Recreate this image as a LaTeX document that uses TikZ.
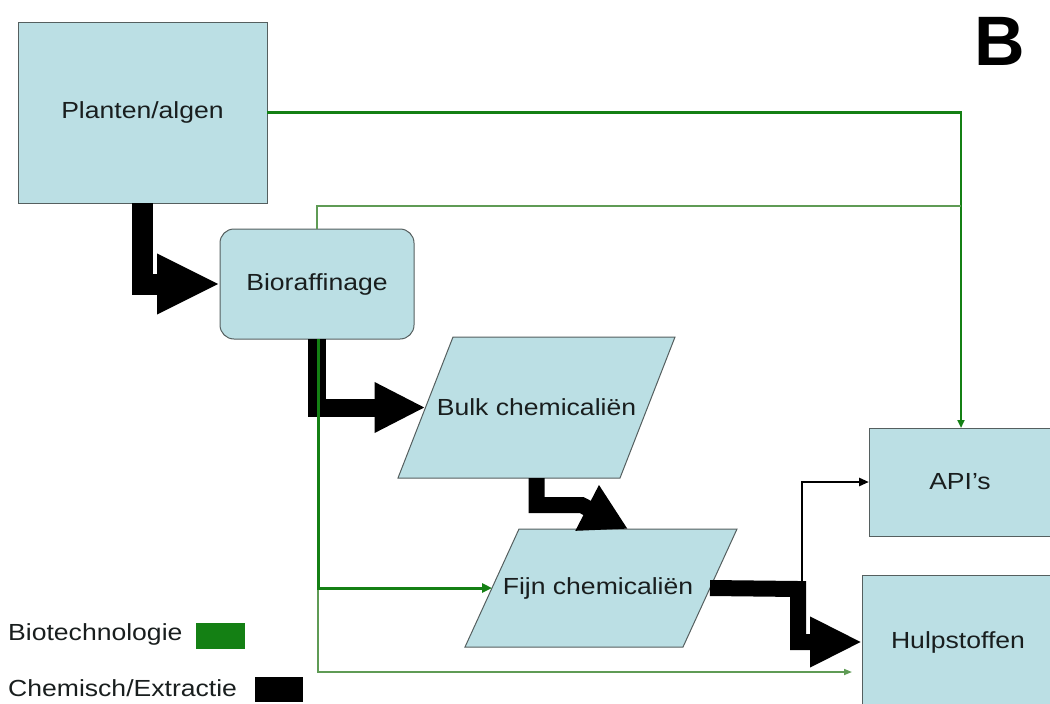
\documentclass[tikz,border=0pt]{standalone}
\usepackage{fontspec}
\setmainfont{Liberation Sans}[FakeStretch=1.14]
\newfontfamily\plainsans{Liberation Sans}
\usetikzlibrary{arrows.meta,backgrounds}
\definecolor{boxfill}{RGB}{187,223,228}
\definecolor{boxline}{RGB}{85,95,95}
\definecolor{flowgreen}{RGB}{20,128,20}
\definecolor{thingreen}{RGB}{95,155,85}
\definecolor{txt}{RGB}{25,30,30}
\begin{document}
\begin{tikzpicture}[x=1pt,y=-1pt,
  lbl/.style={text=txt, font=\fontsize{23.3}{26}\selectfont},
  box/.style={lbl, draw=boxline, line width=1pt, fill=boxfill, inner sep=0pt, outer sep=0pt},
  parabody/.style={lbl, rectangle, inner sep=0pt, outer sep=0pt},
  paraface/.style={draw=boxline, line width=1pt, fill=boxfill},
  blk/.style={draw=black, line width=#1, line join=miter},
  grn/.style={draw=flowgreen, line width=#1},
]
\path[use as bounding box] (0,0) rectangle (1050,704);

% nodes
\node[box, minimum width=249, minimum height=181] (plant) at (142.5,112.5) {Planten/algen};
\node[box, rounded corners=14pt, minimum width=194, minimum height=110] (bio) at (317,284) {Bioraffinage};
\node[parabody, minimum width=222, minimum height=141] (bulk) at (536.5,407.5) {Bulk chemicali\"en};
\node[parabody, minimum width=218, minimum height=118] (fijn) at (601,588) {Fijn chemicali\"en\hspace*{6pt}};
\node[box, minimum width=191, minimum height=108] (api) at (964.5,482) {API's\hspace*{9pt}};
\node[box, minimum width=198, minimum height=134] (hulp) at (961,642) {Hulpstoffen\hspace*{6pt}};

\begin{scope}[on background layer]
  \draw[paraface] ([xshift=27.5pt]bulk.north west) -- ([xshift=27.5pt]bulk.north east)
     -- ([xshift=-27.5pt]bulk.south east) -- ([xshift=-27.5pt]bulk.south west) -- cycle;
  \draw[paraface] ([xshift=27pt]fijn.north west) -- ([xshift=27pt]fijn.north east)
     -- ([xshift=-27pt]fijn.south east) -- ([xshift=-27pt]fijn.south west) -- cycle;
\end{scope}

\node[font=\plainsans\bfseries\fontsize{70}{70}\selectfont] (B) at (999.5,41) {B};

% legend
\node[lbl, anchor=west, inner sep=0pt] (lg1) at (8,634) {Biotechnologie};
\node[fill=flowgreen, minimum width=49, minimum height=26, inner sep=0pt] (lg1b) at (220.5,636) {};
\node[lbl, anchor=west, inner sep=0pt] (lg2) at (8,688) {Chemisch/Extractie};
\node[fill=black, minimum width=48, minimum height=25, inner sep=0pt] (lg2b) at (279,689.5) {};

\coordinate (jf) at (798,589);
\coordinate (gj) at (961,206);
\coordinate (gh) at (852,672);

% black block arrows
\draw[blk=21pt, -{Triangle[length=63pt,width=56pt]}] (plant.south) |- (bio.west);
\draw[blk=18pt, -{Triangle[length=51pt,width=47pt]}] (bio.south) |- (bulk.west);
\draw[blk=16pt, -{Triangle[length=46pt,width=48pt]}] (bulk.south) -- ++(0,27) -- ++(45,0) -- ([xshift=27pt]fijn.north);
\draw[blk=16pt, -{Triangle[length=52pt,width=47pt]}] (fijn.east) -- (jf) |- (hulp.west);
\draw[draw=black, line width=2.5pt, -{Triangle[length=10pt,width=8pt]}] ([xshift=4pt,yshift=-8pt]jf) |- (api.west);

% green lines
\draw[grn=2.5pt, -{Triangle[length=8pt,width=7pt]}] (plant.east) -| ([xshift=-3.5pt]api.north);
\draw[draw=thingreen, line width=1.6pt] (bio.north) |- (gj);
\draw[draw=thingreen, line width=1.6pt, -{Triangle[length=8pt,width=6pt]}] ([xshift=1pt]bio.south) |- (gh);
\draw[grn=3pt, -{Triangle[length=10pt,width=9pt]}] ([xshift=1pt]bio.south) |- (fijn.west);
\end{tikzpicture}
\end{document}
